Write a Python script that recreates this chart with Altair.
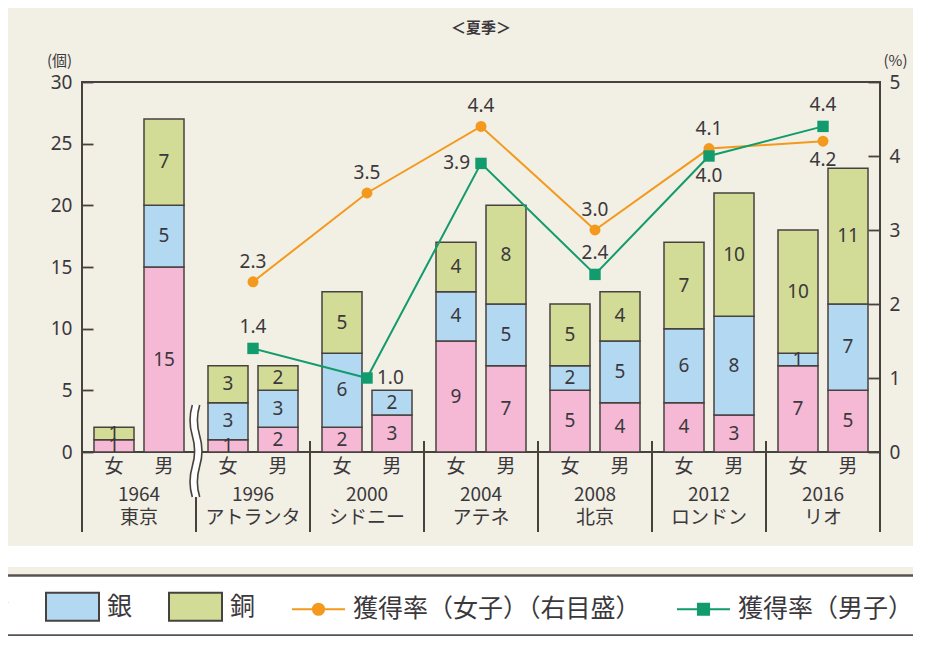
import altair as alt
import pandas as pd

# ---------------- data ----------------
groups = ["1964 東京", "1996 アトランタ", "2000 シドニー", "2004 アテネ",
          "2008 北京", "2012 ロンドン", "2016 リオ"]
sexes = ["女", "男"]
medals = ["金", "銀", "銅"]

gold_f = [1, 1, 2, 9, 5, 4, 7]
silver_f = [0, 3, 6, 4, 2, 6, 1]
bronze_f = [1, 3, 5, 4, 5, 7, 10]
gold_m = [15, 2, 3, 7, 4, 3, 5]
silver_m = [5, 3, 2, 5, 5, 8, 7]
bronze_m = [7, 2, 0, 8, 4, 10, 11]

rate_f = [None, 2.3, 3.5, 4.4, 3.0, 4.1, 4.2]
rate_m = [None, 1.4, 1.0, 3.9, 2.4, 4.0, 4.4]

left_ticks = [0, 5, 10, 15, 20, 25, 30]
right_ticks = [0, 1, 2, 3, 4, 5]

legend_items = ["金", "銀", "銅", "獲得率（女子）（右目盛）", "獲得率（男子）（右目盛）"]

# ---------------- styles ----------------
CREAM = "#f2efe4"
FRAME = "#48423f"
TXT = "#3b383c"
ORANGE = "#f39a1e"
GREEN = "#129b6c"
medal_colors = ["#f5b9d5", "#b3d9f2", "#d2dc97"]
FONT = "Noto Sans CJK JP"

rows = []
counts = {"女": [gold_f, silver_f, bronze_f], "男": [gold_m, silver_m, bronze_m]}
for gi, g in enumerate(groups):
    for s in sexes:
        for mi, m in enumerate(medals):
            rows.append({"group": g, "sex": s, "medal": m, "rank": mi,
                         "count": counts[s][mi][gi]})
bar_df = pd.DataFrame(rows)
sex_df = bar_df[["group", "sex"]].drop_duplicates().reset_index(drop=True)

rrows = []
for gi, g in enumerate(groups):
    if rate_f[gi] is not None:
        rrows.append({"group": g, "sex": "女", "rate": rate_f[gi]})
    if rate_m[gi] is not None:
        rrows.append({"group": g, "sex": "男", "rate": rate_m[gi]})
rate_df = pd.DataFrame(rrows)
grp_df = pd.DataFrame({"group": groups})
one = pd.DataFrame({"a": [0]})
legend_df = pd.DataFrame({"item": legend_items})

# ---------------- scales / axes ----------------
xscale = alt.Scale(domain=groups, paddingInner=0, paddingOuter=0)
xoff_scale = alt.Scale(domain=sexes, paddingInner=0.2, paddingOuter=0.24)
xaxis = alt.Axis(title=None, domain=False, ticks=False, labelAngle=0,
                 labelPadding=33, labelFontSize=19, labelFont=FONT,
                 labelColor=TXT, labelExpr="split(datum.label, ' ')",
                 labelLineHeight=23, labelBaseline="top", labelOverlap=False)
lscale = alt.Scale(domain=[0, 30], nice=False, zero=True)
rscale = alt.Scale(domain=[0, 5], nice=False, zero=True)
laxis = alt.Axis(values=left_ticks, grid=True, gridDash=[11, 2000],
                 gridColor=FRAME, gridWidth=1.8, gridOpacity=1, ticks=False,
                 domain=False, labelPadding=10, labelFontSize=19,
                 labelFont="Noto Sans", labelColor=TXT, title="(個)",
                 titleAngle=0, titleX=-23, titleY=-22, titleAlign="center",
                 titleBaseline="middle", titleFontSize=15,
                 titleFontWeight="normal", titleColor=TXT, titleFont=FONT)
raxis = alt.Axis(orient="right", values=right_ticks, grid=True,
                 gridDash=[12, 2000], gridColor=FRAME, gridWidth=1.8,
                 gridOpacity=1, ticks=False, domain=False, labelPadding=9,
                 labelFontSize=19, labelFont="Noto Sans", labelColor=TXT,
                 title="(%)", titleAngle=0, titleX=15, titleY=-22,
                 titleAlign="center", titleBaseline="middle", titleFontSize=15,
                 titleFontWeight="normal", titleColor=TXT, titleFont=FONT)

X = alt.X("group:N", scale=xscale, axis=xaxis, sort=groups, title=None)
XO = alt.XOffset("sex:N", scale=xoff_scale, sort=sexes)

# ---------------- decorations ----------------
gap = alt.Chart(one).mark_rect(color="white").encode(
    x=alt.value(-80), x2=alt.value(840), y=alt.value(464), y2=alt.value(485))
legbox = alt.Chart(one).mark_rect(color="white").encode(
    x=alt.value(-80), x2=alt.value(840), y=alt.value(494), y2=alt.value(553))
legtop = alt.Chart(one).mark_rule(color="#5a5250", strokeWidth=2.5).encode(
    x=alt.value(-80), x2=alt.value(840), y=alt.value(493.5))
legbot = alt.Chart(one).mark_rule(color="#5a5250", strokeWidth=2.5).encode(
    x=alt.value(-80), x2=alt.value(840), y=alt.value(553.5))

title = alt.Chart(one).mark_text(text="＜夏季＞", font=FONT, fontSize=15,
                                 color=TXT, fontWeight="bold").encode(
    x=alt.value(399), y=alt.value(-54))

# ---------------- bars ----------------
bars = alt.Chart(bar_df).transform_filter("datum.count > 0").mark_bar(
    stroke=FRAME, strokeWidth=1.5).encode(
    x=X, xOffset=XO,
    y=alt.Y("count:Q", stack="zero", scale=lscale, axis=laxis),
    color=alt.Color("medal:N", scale=alt.Scale(domain=medals, range=medal_colors),
                    legend=None),
    order=alt.Order("rank:Q", sort="ascending"),
)
bar_text = alt.Chart(bar_df).transform_filter("datum.count > 0").transform_stack(
    stack="count", groupby=["group", "sex"], as_=["y0", "y1"],
    sort=[alt.SortField("rank", order="ascending")]
).transform_calculate(mid="(datum.y0 + datum.y1) / 2").mark_text(
    font="Noto Sans", fontSize=19, color=TXT, baseline="middle").encode(
    x=X, xOffset=XO,
    y=alt.Y("mid:Q", scale=lscale, axis=laxis),
    text="count:Q",
)
left = alt.layer(bars, bar_text)

sex_text = alt.Chart(sex_df).mark_text(font=FONT, fontSize=19, color=TXT,
                                        baseline="middle").encode(
    x=X, xOffset=XO, y=alt.value(385), text="sex:N")

# separators
sep = alt.Chart(grp_df).transform_filter("datum.group != '1996 アトランタ'").mark_rule(
    color=FRAME, strokeWidth=2).encode(
    x=alt.X("group:N", scale=xscale, axis=xaxis, sort=groups, title=None, bandPosition=0),
    y=alt.value(359), y2=alt.value(450))
sep96 = alt.Chart(grp_df).transform_filter("datum.group == '1996 アトランタ'").mark_rule(
    color=FRAME, strokeWidth=2).encode(
    x=alt.X("group:N", scale=xscale, axis=xaxis, sort=groups, title=None, bandPosition=0),
    y=alt.value(415), y2=alt.value(450))
sep_end = alt.Chart(grp_df).transform_filter("datum.group == '2016 リオ'").mark_rule(
    color=FRAME, strokeWidth=2).encode(
    x=alt.X("group:N", scale=xscale, axis=xaxis, sort=groups, title=None, bandPosition=1),
    y=alt.value(359), y2=alt.value(450))

wave_fill_path = ("M-0.08,-1 Q-0.18,-0.67 -0.08,-0.33 Q0.02,0 -0.08,0.33 "
                  "Q-0.18,0.67 -0.08,1 L0.08,1 Q-0.02,0.67 0.08,0.33 "
                  "Q0.18,0 0.08,-0.33 Q-0.02,-0.67 0.08,-1 Z")
wave_line_path = ("M-0.08,-1 Q-0.18,-0.67 -0.08,-0.33 Q0.02,0 -0.08,0.33 "
                  "Q-0.18,0.67 -0.08,1 M0.08,-1 Q-0.02,-0.67 0.08,-0.33 "
                  "Q0.18,0 0.08,0.33 Q-0.02,0.67 0.08,1")
wave_fill = alt.Chart(grp_df).transform_filter("datum.group == '1996 アトランタ'").mark_point(
    shape=wave_fill_path, filled=True, color="white", opacity=1, size=8464,
    strokeWidth=0).encode(
    x=alt.X("group:N", scale=xscale, axis=xaxis, sort=groups, title=None, bandPosition=0),
    y=alt.value(369))
wave_line = alt.Chart(grp_df).transform_filter("datum.group == '1996 アトランタ'").mark_point(
    shape=wave_line_path, filled=False, color=FRAME, opacity=1, size=8464,
    strokeWidth=1.6).encode(
    x=alt.X("group:N", scale=xscale, axis=xaxis, sort=groups, title=None, bandPosition=0),
    y=alt.value(369))

# ---------------- rates ----------------
YR = alt.Y("rate:Q", scale=rscale, axis=raxis)
rate_base = alt.Chart(rate_df)
f_base = rate_base.transform_filter("datum.sex == '女'")
m_base = rate_base.transform_filter("datum.sex == '男'")
line_f = f_base.mark_line(color=ORANGE, strokeWidth=2).encode(x=X, y=YR)
line_m = m_base.mark_line(color=GREEN, strokeWidth=2).encode(x=X, y=YR)
pt_f = f_base.mark_point(shape="circle", filled=True, color=ORANGE, opacity=1,
                         size=120).encode(x=X, y=YR)
pt_m = m_base.mark_point(shape="square", filled=True, color=GREEN, opacity=1,
                         size=130).encode(x=X, y=YR)

def lab(base, cond, **kw):
    b = base.transform_filter(cond) if cond else base
    return b.mark_text(font="Noto Sans", fontSize=19, color=TXT, **kw).encode(
        x=X, y=YR, text=alt.Text("rate:Q", format=".1f"))

lab_f_up = lab(f_base, "datum.group != '2016 リオ'", dy=-20, baseline="middle")
lab_f_dn = lab(f_base, "datum.group == '2016 リオ'", dy=19, baseline="middle")
lab_m_up = lab(m_base, "indexof(['1996 アトランタ','2008 北京','2016 リオ'], datum.group) >= 0",
               dy=-21, baseline="middle")
lab_m_dn = lab(m_base, "datum.group == '2012 ロンドン'", dy=20, baseline="middle")
lab_m_r = lab(m_base, "datum.group == '2000 シドニー'", dx=10, align="left", baseline="middle")
lab_m_l = lab(m_base, "datum.group == '2004 アテネ'", dx=-11, align="right", baseline="middle")

right = alt.layer(line_f, line_m, pt_f, pt_m, lab_f_up, lab_f_dn,
                  lab_m_up, lab_m_dn, lab_m_r, lab_m_l)

# ---------------- legend ----------------
rect_p = "M-1,-0.528H1V0.528H-1Z"
circ_p = "M-1,0H1M0.21,0A0.21,0.21,0,1,1,-0.21,0A0.21,0.21,0,1,1,0.21,0Z"
sq_p = "M-1,0H1M-0.21,-0.21H0.21V0.21H-0.21Z"
leg = alt.Legend(orient="none", legendX=-160, legendY=497, direction="horizontal",
                 title=None, symbolSize=2809, symbolStrokeWidth=2,
                 labelFontSize=25, labelFont=FONT, labelColor=TXT,
                 labelOffset=7, columnPadding=32, labelLimit=600, padding=0,
                 symbolOpacity=1)
legend_layer = alt.Chart(legend_df).transform_filter("false").mark_point(
    filled=True, opacity=1).encode(
    shape=alt.Shape("item:N", scale=alt.Scale(domain=legend_items,
                    range=[rect_p, rect_p, rect_p, circ_p, sq_p]), legend=leg),
    fill=alt.Fill("item:N", scale=alt.Scale(domain=legend_items,
                  range=medal_colors + [ORANGE, GREEN]), legend=leg),
    stroke=alt.Stroke("item:N", scale=alt.Scale(domain=legend_items,
                      range=[FRAME, FRAME, FRAME, ORANGE, GREEN]), legend=leg),
)

chart = alt.layer(
    gap, legbox, legtop, legbot, title,
    left, right,
    sex_text, sep, sep96, sep_end, wave_fill, wave_line,
    legend_layer,
).resolve_scale(y="independent").properties(
    width=798, height=370,
    padding={"left": 74, "top": 74, "right": 33, "bottom": 184},
    autosize=alt.AutoSizeParams(type="none"),
    background=CREAM,
).configure_view(stroke=FRAME, strokeWidth=2, fill="white")

chart.save("out.html", embed_options={"renderer": "svg", "actions": False})
